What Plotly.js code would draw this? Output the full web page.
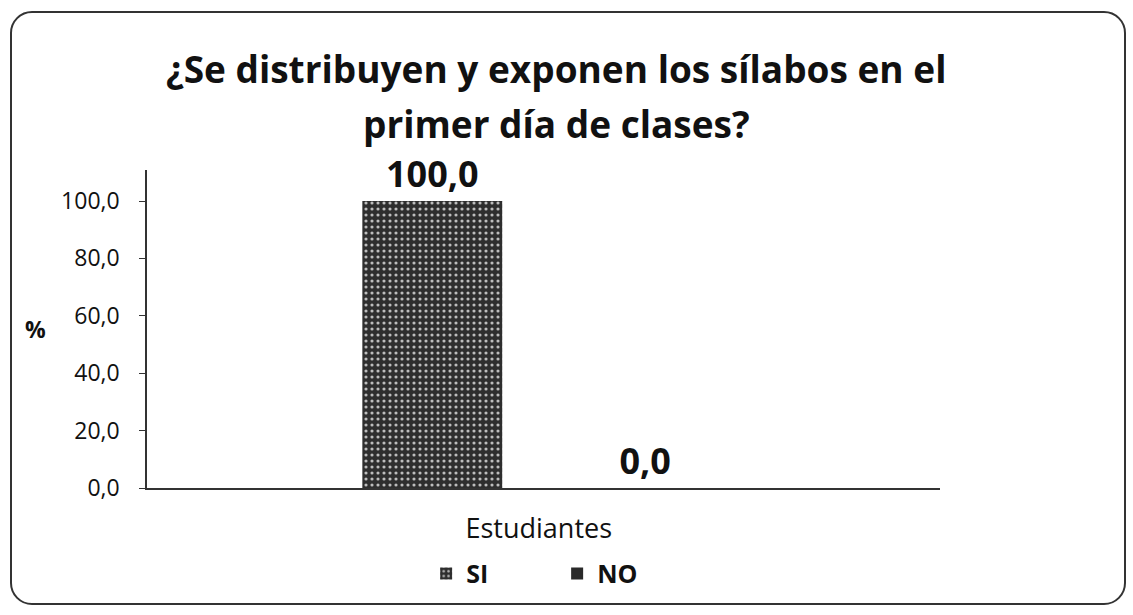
<!DOCTYPE html>
<html><head><meta charset="utf-8">
<script src="https://cdn.plot.ly/plotly-3.0.1.min.js"></script>
<style>
html,body{margin:0;padding:0;background:#fff;}
#wrap{position:relative;width:1133px;height:615px;}
#chart{width:1133px;height:615px;}
#frame{position:absolute;left:10px;top:11px;width:1112px;height:590px;border:2px solid #333;border-radius:22px;pointer-events:none;}
</style></head>
<body>
<div id="wrap"><div id="chart"></div><div id="frame"></div></div>
<script>
const categories = ["Estudiantes"];
const seriesNames = ["SI", "NO"];
const siValues = [100.0];
const noValues = [0.0];
const yTicks = [0, 20, 40, 60, 80, 100];
const titleLines = ["¿Se distribuyen y exponen los sílabos en el", "primer día de clases?"];

const fontFam = "Open Sans, Liberation Sans, sans-serif";
const fmt = v => v.toFixed(1).replace('.', ',');
const traces = [
  {type:'bar', name:seriesNames[0], x:categories, y:siValues,
   marker:{color:'#3c3c3c', pattern:{shape:'.', fgcolor:'#bdbdbd', bgcolor:'#2e2e2e', size:6, solidity:0.22}},
   text:siValues.map(fmt), textposition:'outside',
   textfont:{size:36, color:'#111', family:fontFam, weight:'bold'}, cliponaxis:false},
  {type:'bar', name:seriesNames[1], x:categories, y:noValues,
   marker:{color:'#2a2a2a'},
   text:noValues.map(fmt), textposition:'outside',
   textfont:{size:36, color:'#111', family:fontFam, weight:'bold'}, cliponaxis:false}
];
const layout = {
  width:1133, height:615,
  margin:{l:147, r:193, t:170, b:127},
  paper_bgcolor:'#fff', plot_bgcolor:'#fff',
  separators:',.',
  barmode:'group', bargap:0.463, bargroupgap:0.343,
  font:{family:fontFam, color:'#111'},
  xaxis:{range:[-0.494, 0.506], showline:true, linecolor:'#333', linewidth:1.5, ticks:'', tickfont:{size:27}, showgrid:false, ticklabelstandoff:16},
  yaxis:{range:[0,110.8], tickvals:yTicks, tickformat:'.1f', showline:true, linecolor:'#333', linewidth:1.5,
    ticks:'outside', ticklen:6, tickcolor:'#333', showgrid:false, zeroline:false, tickfont:{size:23}, ticklabelstandoff:15},
  showlegend:true,
  legend:{orientation:'h', x:0.352, xanchor:'left', y:-0.27, yanchor:'middle', font:{size:25, weight:'bold'}, entrywidth:86, entrywidthmode:'pixels', traceorder:'normal'},
  annotations:[
    {text:'<b>'+titleLines[0]+'</b>', xref:'paper', yref:'paper', x:0.516, xanchor:'center', y:1.318, yanchor:'middle', showarrow:false, font:{size:37}},
    {text:'<b>'+titleLines[1]+'</b>', xref:'paper', yref:'paper', x:0.516, xanchor:'center', y:1.145, yanchor:'middle', showarrow:false, font:{size:37}},
    {text:'<b>%</b>', xref:'paper', yref:'paper', x:-0.141, xanchor:'center', y:0.5, showarrow:false, font:{size:23}}
  ]
};
Plotly.newPlot('chart', traces, layout, {displayModeBar:false});
</script>
</body></html>
